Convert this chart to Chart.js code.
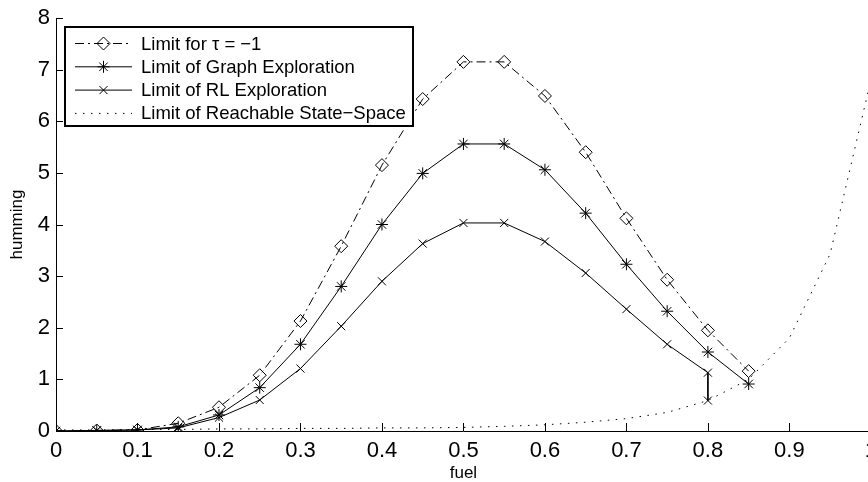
<!DOCTYPE html>
<html>
<head>
<meta charset="utf-8">
<script src="https://cdn.jsdelivr.net/npm/chart.js@4.4.1/dist/chart.umd.min.js"></script>
<style>
  html, body { margin: 0; padding: 0; background: #fff; overflow: hidden; }
  canvas { display: block; }
</style>
</head>
<body>
<canvas id="grafico" width="884" height="486"></canvas>
<script>
// valores
const fuel = [0, 0.05, 0.1, 0.15, 0.2, 0.25, 0.3, 0.35, 0.4, 0.45, 0.5, 0.55, 0.6, 0.65, 0.7, 0.75, 0.8, 0.85];
const limitTau = [0, 0.01, 0.02, 0.15, 0.46, 1.08, 2.13, 3.58, 5.15, 6.43, 7.15, 7.15, 6.49, 5.4, 4.12, 2.93, 1.95, 1.16];
const limitGraph = [0, 0.01, 0.02, 0.08, 0.31, 0.84, 1.68, 2.8, 4.0, 4.99, 5.56, 5.56, 5.06, 4.22, 3.23, 2.32, 1.53, 0.91];
const fuelRL = [0, 0.05, 0.1, 0.15, 0.2, 0.25, 0.3, 0.35, 0.4, 0.45, 0.5, 0.55, 0.6, 0.65, 0.7, 0.75, 0.8, 0.8];
const limitRL = [0, 0.01, 0.02, 0.06, 0.26, 0.6, 1.21, 2.03, 2.9, 3.63, 4.03, 4.03, 3.67, 3.06, 2.36, 1.68, 1.13, 0.59];
const fuelReach = [0, 0.05, 0.1, 0.15, 0.2, 0.25, 0.3, 0.35, 0.4, 0.45, 0.5, 0.55, 0.6, 0.65, 0.7, 0.75, 0.8, 0.85, 0.9, 0.95, 1.0];
const limitReach = [0.02, 0.02, 0.03, 0.03, 0.04, 0.04, 0.05, 0.05, 0.06, 0.06, 0.07, 0.09, 0.12, 0.17, 0.24, 0.36, 0.59, 1.0, 1.8, 3.43, 6.8];
const xTicks = [0, 0.1, 0.2, 0.3, 0.4, 0.5, 0.6, 0.7, 0.8, 0.9, 1];
const yTicks = [0, 1, 2, 3, 4, 5, 6, 7, 8];

const FUENTE = "'Liberation Sans', Arial, Helvetica, sans-serif";

const pares = (xs, ys) => xs.map((x, i) => ({ x: x, y: ys[i] }));

const series = [
  { label: 'Limit for \u03C4 = \u22121', data: pares(fuel, limitTau), dash: [9, 4, 2, 4], marker: 'rectRot', r: 6.5 },
  { label: 'Limit of Graph Exploration', data: pares(fuel, limitGraph), dash: [], marker: 'star', r: 6 },
  { label: 'Limit of RL Exploration', data: pares(fuelRL, limitRL), dash: [], marker: 'crossRot', r: 5.7 },
  { label: 'Limit of Reachable State\u2212Space', data: pares(fuelReach, limitReach), dash: [1.5, 6.5], marker: false, r: 0 }
];

// marcas dibujadas a mano para la leyenda
function dibujarMarca(ctx, tipo, x, y, r) {
  ctx.beginPath();
  if (tipo === 'rectRot') {
    ctx.moveTo(x, y - r); ctx.lineTo(x + r, y); ctx.lineTo(x, y + r); ctx.lineTo(x - r, y); ctx.closePath();
  } else if (tipo === 'star' || tipo === 'crossRot') {
    const d = r * Math.SQRT1_2;
    ctx.moveTo(x - d, y - d); ctx.lineTo(x + d, y + d);
    ctx.moveTo(x - d, y + d); ctx.lineTo(x + d, y - d);
    if (tipo === 'star') {
      ctx.moveTo(x - r, y); ctx.lineTo(x + r, y);
      ctx.moveTo(x, y - r); ctx.lineTo(x, y + r);
    }
  }
  ctx.stroke();
}

const leyendaPlugin = {
  id: 'leyendaCaja',
  afterDraw(chart) {
    const ctx = chart.ctx;
    const caja = { x: 65, y: 27, w: 348, h: 99 };
    ctx.save();
    ctx.fillStyle = '#fff';
    ctx.fillRect(caja.x, caja.y, caja.w, caja.h);
    ctx.strokeStyle = '#000';
    ctx.lineWidth = 2;
    ctx.strokeRect(caja.x, caja.y, caja.w, caja.h);
    ctx.font = '18.5px ' + FUENTE;
    ctx.textBaseline = 'middle';
    ctx.fillStyle = '#000';
    series.forEach((s, i) => {
      const yy = 43.5 + i * 23.3;
      ctx.lineWidth = 1;
      ctx.strokeStyle = '#000';
      ctx.setLineDash(s.dash);
      ctx.beginPath();
      ctx.moveTo(75, yy);
      ctx.lineTo(132, yy);
      ctx.stroke();
      ctx.setLineDash([]);
      if (s.marker) dibujarMarca(ctx, s.marker, 103.5, yy, s.r);
      ctx.fillText(s.label, 141, yy + 1);
    });
    ctx.restore();
  }
};

// ticks hacia dentro, como en la figura original
const ticksDentroPlugin = {
  id: 'ticksDentro',
  afterDatasetsDraw(chart) {
    const { ctx, chartArea, scales } = chart;
    ctx.save();
    ctx.strokeStyle = '#000';
    ctx.lineWidth = 1;
    ctx.beginPath();
    xTicks.forEach(v => {
      const px = Math.round(scales.x.getPixelForValue(v)) + 0.5;
      ctx.moveTo(px, chartArea.bottom);
      ctx.lineTo(px, chartArea.bottom - 8);
    });
    yTicks.forEach(v => {
      const py = Math.round(scales.y.getPixelForValue(v)) + 0.5;
      ctx.moveTo(chartArea.left, py);
      ctx.lineTo(chartArea.left + 7, py);
    });
    ctx.stroke();
    ctx.restore();
  }
};

new Chart(document.getElementById('grafico'), {
  type: 'line',
  data: {
    datasets: series.map(s => ({
      label: s.label,
      data: s.data,
      borderColor: '#000',
      borderWidth: 1,
      borderDash: s.dash,
      pointStyle: s.marker,
      pointRadius: s.r,
      pointBorderColor: '#000',
      pointBackgroundColor: 'rgba(0,0,0,0)',
      pointBorderWidth: 1,
      tension: 0,
      fill: false
    }))
  },
  options: {
    responsive: false,
    devicePixelRatio: 1,
    animation: false,
    layout: { padding: { top: 18, right: 13, left: 0, bottom: 0 } },
    plugins: {
      legend: { display: false },
      tooltip: { enabled: false }
    },
    scales: {
      x: {
        type: 'linear',
        min: 0,
        max: 1,
        afterFit: s => { s.height = 55; },
        afterBuildTicks: s => { s.ticks = xTicks.map(v => ({ value: v })); },
        grid: { display: false, drawTicks: false },
        border: { display: true, color: '#000', width: 1 },
        ticks: {
          color: '#000',
          font: { family: FUENTE, size: 22 },
          padding: 7,
          maxRotation: 0,
          autoSkip: false,
          callback: v => String(v)
        },
        title: {
          display: true,
          text: 'fuel',
          color: '#000',
          font: { family: FUENTE, size: 17 },
          padding: { top: 0, bottom: 2 }
        }
      },
      y: {
        min: 0,
        max: 8,
        afterFit: s => { s.width = 56; },
        afterBuildTicks: s => { s.ticks = yTicks.map(v => ({ value: v })); },
        grid: { display: false, drawTicks: false },
        border: { display: true, color: '#000', width: 1 },
        ticks: {
          color: '#000',
          font: { family: FUENTE, size: 22, lineHeight: 1 },
          padding: 6,
          callback: v => String(v)
        },
        title: {
          display: true,
          text: 'humming',
          color: '#000',
          font: { family: FUENTE, size: 17 },
          padding: { top: 7, bottom: 0 }
        }
      }
    }
  },
  plugins: [ticksDentroPlugin, leyendaPlugin]
});
</script>
</body>
</html>
